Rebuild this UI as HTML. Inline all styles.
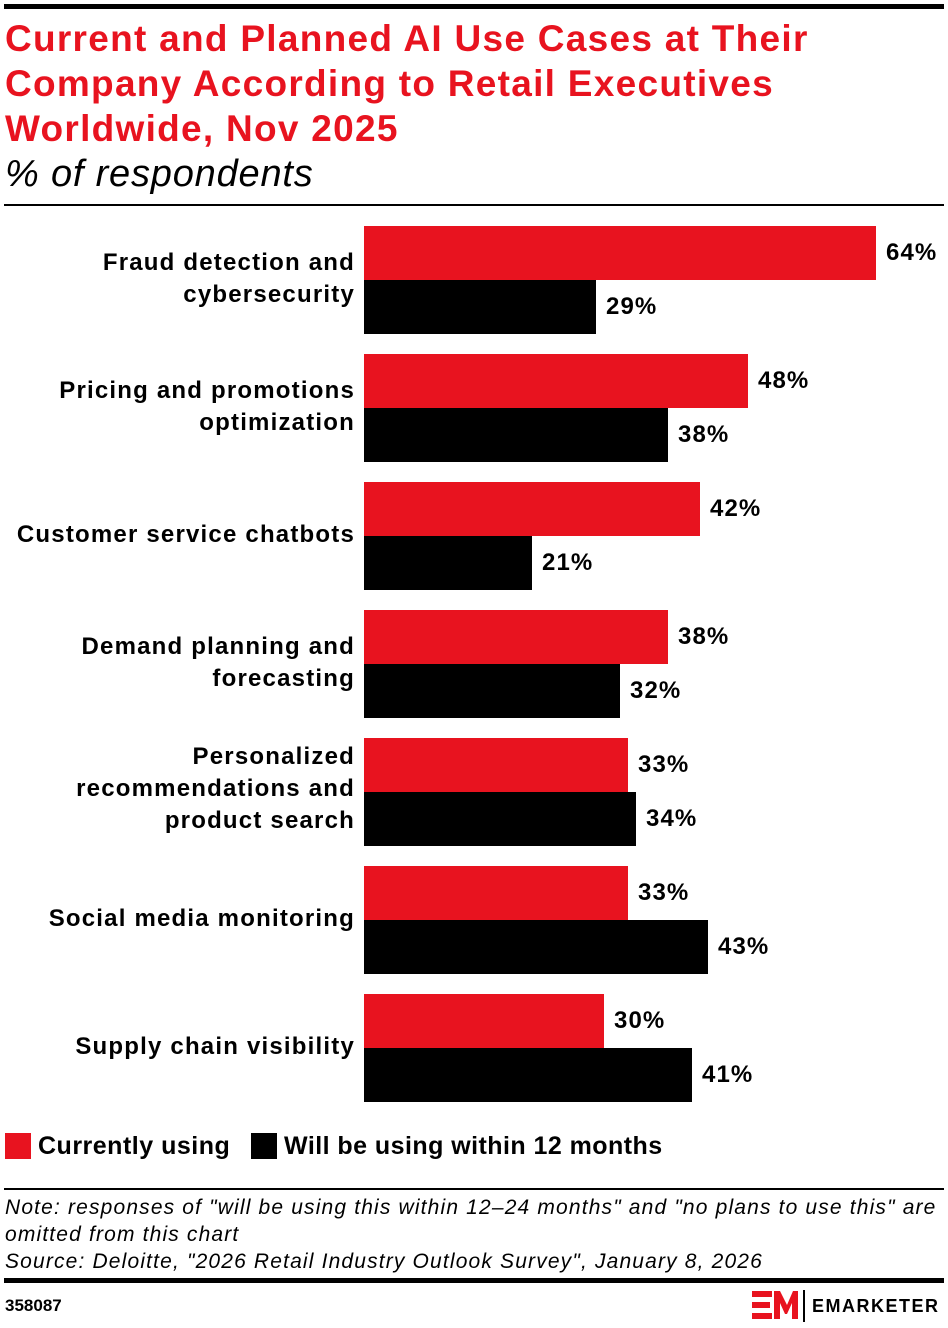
<!DOCTYPE html>
<html><head><style>
body{margin:0;width:948px;height:1328px;background:#fff;position:relative;font-family:"Liberation Sans",sans-serif;overflow:hidden}
.a{position:absolute}
.t{left:5px;color:#e8131f;font-weight:bold;font-size:37px;line-height:45px;top:16px;letter-spacing:1.28px;white-space:nowrap}
.lab{position:absolute;right:593px;text-align:right;font-weight:bold;font-size:24px;line-height:32px;color:#000;letter-spacing:1.2px;white-space:nowrap}
.r{position:absolute;left:364px;height:54px;background:#e8131f}
.k{position:absolute;left:364px;height:54px;background:#000}
.v{position:absolute;font-weight:bold;font-size:24px;line-height:54px;letter-spacing:1.1px}
.n{font-style:italic;font-size:21px;line-height:27px;left:5px;letter-spacing:1.16px;white-space:nowrap}
</style></head><body>
<div class="a" style="left:4px;top:4px;width:940px;height:5px;background:#000"></div>
<div class="a t">Current and Planned AI Use Cases at Their<br>Company According to Retail Executives<br>Worldwide, Nov 2025</div>
<div class="a" style="left:5px;top:152px;font-style:italic;font-size:38px;line-height:44px;letter-spacing:0.8px">% of respondents</div>
<div class="a" style="left:4px;top:204px;width:940px;height:2px;background:#000"></div>

<div class="lab" style="top:247px">Fraud detection and<br>cybersecurity</div>
<div class="r" style="top:226px;width:512px"></div><div class="v" style="top:226px;left:886px">64%</div>
<div class="k" style="top:280px;width:232px"></div><div class="v" style="top:280px;left:606px">29%</div>

<div class="lab" style="top:375px">Pricing and promotions<br>optimization</div>
<div class="r" style="top:354px;width:384px"></div><div class="v" style="top:354px;left:758px">48%</div>
<div class="k" style="top:408px;width:304px"></div><div class="v" style="top:408px;left:678px">38%</div>

<div class="lab" style="top:519px">Customer service chatbots</div>
<div class="r" style="top:482px;width:336px"></div><div class="v" style="top:482px;left:710px">42%</div>
<div class="k" style="top:536px;width:168px"></div><div class="v" style="top:536px;left:542px">21%</div>

<div class="lab" style="top:631px">Demand planning and<br>forecasting</div>
<div class="r" style="top:610px;width:304px"></div><div class="v" style="top:610px;left:678px">38%</div>
<div class="k" style="top:664px;width:256px"></div><div class="v" style="top:664px;left:630px">32%</div>

<div class="lab" style="top:741px">Personalized<br>recommendations and<br>product search</div>
<div class="r" style="top:738px;width:264px"></div><div class="v" style="top:738px;left:638px">33%</div>
<div class="k" style="top:792px;width:272px"></div><div class="v" style="top:792px;left:646px">34%</div>

<div class="lab" style="top:903px">Social media monitoring</div>
<div class="r" style="top:866px;width:264px"></div><div class="v" style="top:866px;left:638px">33%</div>
<div class="k" style="top:920px;width:344px"></div><div class="v" style="top:920px;left:718px">43%</div>

<div class="lab" style="top:1031px">Supply chain visibility</div>
<div class="r" style="top:994px;width:240px"></div><div class="v" style="top:994px;left:614px">30%</div>
<div class="k" style="top:1048px;width:328px"></div><div class="v" style="top:1048px;left:702px">41%</div>

<div class="a" style="left:5px;top:1133px;width:26px;height:26px;background:#e8131f"></div>
<div class="a" style="left:38px;top:1130px;font-weight:bold;font-size:25px;line-height:32px;letter-spacing:0.5px">Currently using</div>
<div class="a" style="left:251px;top:1133px;width:26px;height:26px;background:#000"></div>
<div class="a" style="left:284px;top:1130px;font-weight:bold;font-size:25px;line-height:32px;letter-spacing:0.45px">Will be using within 12 months</div>

<div class="a" style="left:4px;top:1188px;width:940px;height:2px;background:#000"></div>
<div class="a n" style="top:1194px">Note: responses of "will be using this within 12–24 months" and "no plans to use this" are<br>omitted from this chart<br>Source: Deloitte, "2026 Retail Industry Outlook Survey", January 8, 2026</div>
<div class="a" style="left:4px;top:1278px;width:940px;height:5px;background:#000"></div>
<div class="a" style="left:5px;top:1296px;font-weight:bold;font-size:17px;line-height:20px">358087</div>
<svg class="a" style="left:752px;top:1291px" width="46" height="28" viewBox="0 0 46 28">
<path d="M0 0h20v6H0zM0 11h18v6H0zM0 22h20v6H0z" fill="#e8131f"/>
<path d="M22 28V0h6l7 14 6-14h5v28h-6V12l-5 11h-2l-5-11v16z" fill="#e8131f"/>
</svg>
<div class="a" style="left:803px;top:1290px;width:2px;height:32px;background:#000"></div>
<div class="a" style="left:812px;top:1295px;font-weight:bold;font-size:18px;line-height:22px;letter-spacing:1.5px">EMARKETER</div>
</body></html>
